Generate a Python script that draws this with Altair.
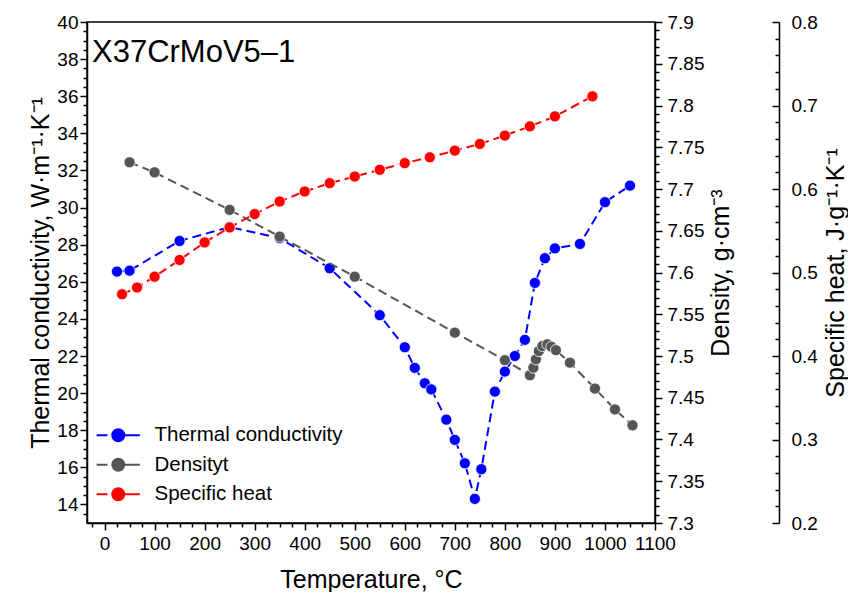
import altair as alt
import pandas as pd

# ---------------- data ----------------
tc_temp = [25, 50, 150, 250, 350, 450, 550, 600, 620, 640, 653, 683, 700, 720, 740, 753,
           780, 800, 820, 840, 860, 880, 900, 950, 1000, 1050]
tc_vals = [26.55, 26.6, 28.2, 28.95, 28.35, 26.73, 24.2, 22.47, 21.36, 20.53, 20.2, 18.57,
           17.48, 16.22, 14.3, 15.9, 20.08, 21.16, 22.0, 22.87, 25.94, 27.27, 27.8, 28.04,
           30.29, 31.18]

den_temp = [50, 100, 250, 350, 500, 700, 800, 850, 857, 862, 868, 875, 885, 893, 902, 930,
            980, 1020, 1055]
den_vals = [7.732, 7.720, 7.675, 7.643, 7.595, 7.528, 7.495, 7.477, 7.486, 7.496, 7.506,
            7.512, 7.514, 7.511, 7.507, 7.492, 7.461, 7.436, 7.417]

cp_temp = [35, 65, 100, 150, 200, 250, 300, 350, 400, 450, 500, 550, 600, 650, 700, 750,
           800, 850, 900, 975]
cp_vals = [0.474, 0.482, 0.495, 0.515, 0.536, 0.554, 0.570, 0.585, 0.597, 0.607, 0.615,
           0.623, 0.631, 0.638, 0.646, 0.654, 0.664, 0.675, 0.687, 0.711]

series_names = ["Thermal conductivity", "Densityt", "Specific heat"]
series_colors = ["#0000ff", "#555555", "#ff0000"]
annotation = "X37CrMoV5\u20131"

x_domain = [-35, 1100]
tc_domain = [13, 40]
den_domain = [7.3, 7.9]
cp_domain = [0.2, 0.8]

x_ticks = list(range(0, 1101, 100))
x_minor = [v for v in range(-25, 1101, 25) if v % 100 != 0]
tc_ticks = list(range(14, 41, 2))
tc_minor = [v / 2 for v in range(27, 81) if v % 4 != 0]
den_ticks = [round(7.3 + 0.05 * i, 2) for i in range(13)]
den_minor = [round(7.3 + 0.01 * i, 2) for i in range(61) if i % 5 != 0]
cp_ticks = [round(0.2 + 0.1 * i, 1) for i in range(7)]
cp_minor = [round(0.2 + 0.02 * i, 2) for i in range(31) if i % 5 != 0]

tc_df = pd.DataFrame({"T": tc_temp, "v": tc_vals})
den_df = pd.DataFrame({"T": den_temp, "v": den_vals})
cp_df = pd.DataFrame({"T": cp_temp, "v": cp_vals})
legend_df = pd.DataFrame({"series": series_names})
title_df = pd.DataFrame({"label": [annotation]})

W, H = 568, 501
FONT = "Liberation Sans"
TICK_FS = 19
TITLE_FS = 25
DASH = [9, 5]
PT_SIZE = 125

def xs(axis=None):
    return alt.X("T:Q", scale=alt.Scale(domain=x_domain, nice=False, zero=False), axis=axis)

def ys(domain, axis=None):
    return alt.Y("v:Q", scale=alt.Scale(domain=domain, nice=False, zero=False), axis=axis)

def major(orient, values, fmt, title=None, **kw):
    return alt.Axis(orient=orient, values=values, format=fmt, tickSize=7, tickWidth=1.5,
                    domainWidth=1.5, labelFontSize=TICK_FS, labelFlush=False,
                    labelOverlap=False, grid=False, title=title, **kw)

def minor(orient, values, size=4, **kw):
    return alt.Axis(orient=orient, values=values, labels=False, tickSize=size, tickWidth=1.5,
                    domain=False, grid=False, title=None, **kw)

def series_layers(df, domain, color):
    line = alt.Chart(df).mark_line(color=color, strokeWidth=2, strokeDash=DASH).encode(
        x=xs(), y=ys(domain))
    pts = alt.Chart(df).mark_point(filled=True, shape="circle", size=PT_SIZE, color=color,
                                   opacity=1, stroke="white", strokeWidth=0.8).encode(
        x=xs(), y=ys(domain))
    return [line, pts]

# axis carrier layers (invisible points)
def carrier(df, domain, xaxis, yaxis):
    return alt.Chart(df).mark_point(opacity=0).encode(x=xs(xaxis), y=ys(domain, yaxis))

x_major_axis = major("bottom", x_ticks, "d", "Temperature, \u00b0C", labelPadding=4,
                     titleFontSize=TITLE_FS, titleY=64, titleBaseline="alphabetic")
tc_major_axis = major("left", tc_ticks, "d", "Thermal conductivity, W\u00b7m\u207b\u00b9\u00b7K\u207b\u00b9",
                      labelPadding=2, titleFontSize=TITLE_FS, titleAngle=270, titleX=-39,
                      titleY=H / 2, titleBaseline="alphabetic", titleAlign="center")
den_major_axis = major("right", den_ticks, ".3~g", "Density, g\u00b7cm\u207b\u00b3",
                       labelPadding=5, titleFontSize=TITLE_FS, titleAngle=270, titleX=73,
                       titleY=H / 2, titleBaseline="alphabetic", titleAlign="center")
cp_tick_axis = alt.Axis(orient="right", offset=117, values=cp_ticks, format=".1f",
                        tickSize=7, tickWidth=1.5, domain=False, labelPadding=12,
                        labelFontSize=TICK_FS, labelFlush=False, labelOverlap=False,
                        grid=False, title=None)
cp_minor_axis = minor("right", cp_minor, size=4, offset=120)
cp_line_axis = alt.Axis(orient="right", offset=124, values=cp_ticks, ticks=False,
                        labels=False, domain=True, domainWidth=1.5, grid=False,
                        title="Specific heat, J\u00b7g\u207b\u00b9\u00b7K\u207b\u00b9",
                        titleFontSize=TITLE_FS, titleAngle=270, titleX=64, titleY=H / 2,
                        titleBaseline="alphabetic", titleAlign="center")

layers = []
layers.append(carrier(tc_df, tc_domain, x_major_axis, tc_major_axis))
layers.append(carrier(tc_df, tc_domain, minor("bottom", x_minor), minor("left", tc_minor)))
layers.append(carrier(den_df, den_domain, None, den_major_axis))
layers.append(carrier(den_df, den_domain, None, minor("right", den_minor)))
layers.append(carrier(cp_df, cp_domain, None, cp_tick_axis))
layers.append(carrier(cp_df, cp_domain, None, cp_minor_axis))
layers.append(carrier(cp_df, cp_domain, None, cp_line_axis))

layers += series_layers(tc_df, tc_domain, series_colors[0])
layers += series_layers(den_df, den_domain, series_colors[1])
layers += series_layers(cp_df, cp_domain, series_colors[2])

legend_symbol = ("M-3.6,0H-1.8M1,0H3.6"
                 "M-1,0A1,1 0 1,0 1,0A1,1 0 1,0 -1,0Z")
leg = alt.Legend(orient="none", legendX=21, legendY=403, title=None,
                 symbolType=legend_symbol, symbolSize=144, symbolStrokeWidth=2,
                 symbolOpacity=1, labelFontSize=20.5, labelOffset=26, rowPadding=8.5,
                 padding=0, labelColor="black", labelFont=FONT, labelLimit=0)
color_scale = alt.Scale(domain=series_names, range=series_colors)
legend_layer = alt.Chart(legend_df).mark_point(filled=True, opacity=0).encode(
    fill=alt.Fill("series:N", scale=color_scale, legend=leg),
    stroke=alt.Stroke("series:N", scale=color_scale, legend=leg),
)
layers.append(legend_layer)

title_layer = alt.Chart(title_df).mark_text(
    align="left", baseline="alphabetic", fontSize=31, font=FONT, color="black"
).encode(text="label:N", x=alt.value(5), y=alt.value(40))
layers.append(title_layer)

chart = alt.layer(*layers).resolve_scale(
    y="independent"
).resolve_axis(
    x="independent", y="independent"
).properties(
    width=W, height=H,
    autosize=alt.AutoSizeParams(type="none"),
    padding={"left": 79, "top": 14, "right": 193, "bottom": 69},
    background="white",
).configure_view(
    stroke="black", strokeWidth=1.5
).configure_axis(
    labelFont=FONT, titleFont=FONT, labelColor="black", titleColor="black",
    domainColor="black", tickColor="black", titleFontWeight="normal",
).configure_text(font=FONT)

chart.save("out.html", embed_options={"renderer": "svg", "actions": False})
